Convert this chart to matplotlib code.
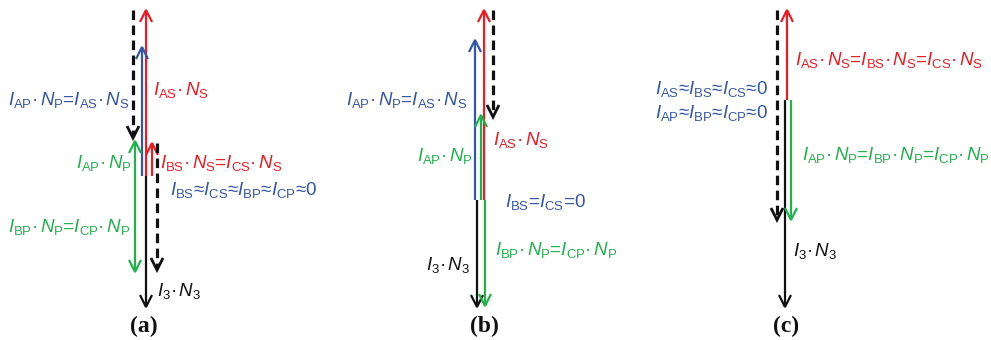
import matplotlib
matplotlib.use("Agg")
import matplotlib.pyplot as plt

plt.rcParams['font.family'] = ['Liberation Sans', 'DejaVu Sans']
plt.rcParams['mathtext.fontset'] = 'custom'
plt.rcParams['mathtext.rm'] = 'Liberation Sans'
plt.rcParams['mathtext.it'] = 'Liberation Sans:italic'
plt.rcParams['mathtext.bf'] = 'Liberation Sans:bold'

RED = '#ec1c24'
BLUE = '#3456a6'
GREEN = '#22b24c'
BLACK = '#111111'

# vectors of each panel: x, tail y, tip y, colour, dashed (picture pixels)
vec_x    = [133, 146, 142, 135, 135, 152, 157, 146,
            484, 493, 475, 481, 477, 485,
            777, 787, 785, 791]
vec_tail = [10, 176, 176, 176, 176, 176, 143, 176,
            200, 10, 200, 200, 200, 200,
            10, 100, 100, 100]
vec_tip  = [138, 10, 47, 141, 272, 143, 270, 307,
            10, 117, 40, 115, 307, 306,
            220, 10, 307, 220]
vec_col  = ['k', 'r', 'b', 'g', 'g', 'r', 'k', 'k',
            'r', 'k', 'b', 'g', 'k', 'g',
            'k', 'r', 'k', 'g']
vec_dash = [1, 0, 0, 0, 0, 0, 1, 0,
            0, 1, 0, 0, 0, 0,
            1, 0, 0, 0]


def mmf(i, n):
    return r"$I_{\rm %s}$·$\,N_{\rm %s}$" % (i, n)


def cur(i):
    return r"$I_{\rm %s}$" % i


# labels: text, x, y, colour, horizontal alignment
lab_text = [
    mmf('AP', 'P') + "=" + mmf('AS', 'S'),
    mmf('AS', 'S'),
    mmf('AP', 'P'),
    mmf('BS', 'S') + "=" + mmf('CS', 'S'),
    cur('BS') + "≈" + cur('CS') + "≈" + cur('BP') + "≈" + cur('CP') + "≈0",
    mmf('BP', 'P') + "=" + mmf('CP', 'P'),
    mmf('3', '3'),
    mmf('AP', 'P') + "=" + mmf('AS', 'S'),
    mmf('AS', 'S'),
    mmf('AP', 'P'),
    cur('BS') + "=" + cur('CS') + "=0",
    mmf('BP', 'P') + "=" + mmf('CP', 'P'),
    mmf('3', '3'),
    mmf('AS', 'S') + "=" + mmf('BS', 'S') + "=" + mmf('CS', 'S'),
    cur('AS') + "≈" + cur('BS') + "≈" + cur('CS') + "≈0",
    cur('AP') + "≈" + cur('BP') + "≈" + cur('CP') + "≈0",
    mmf('AP', 'P') + "=" + mmf('BP', 'P') + "=" + mmf('CP', 'P'),
    mmf('3', '3'),
]
lab_x = [130, 153, 132, 160, 170, 130, 157,
         468, 493, 473, 505, 495, 470,
         795, 768, 768, 802, 793]
lab_y = [100, 90, 163, 163, 190, 227, 291,
         100, 140, 156, 202, 250, 265,
         60, 89, 113, 155, 251]
lab_col = ['b', 'r', 'g', 'r', 'b', 'g', 'k',
           'b', 'r', 'g', 'b', 'g', 'k',
           'r', 'b', 'b', 'g', 'k']
lab_ha = ['right', 'left', 'right', 'left', 'left', 'right', 'left',
          'right', 'left', 'right', 'left', 'left', 'right',
          'left', 'right', 'right', 'left', 'left']

panel_names = ['(a)', '(b)', '(c)']
panel_x = [144, 484, 786]

colours = {'r': RED, 'b': BLUE, 'g': GREEN, 'k': BLACK}

fig = plt.figure(figsize=(9.91, 3.40), dpi=100)
ax = fig.add_axes([0, 0, 1, 1])
ax.set_xlim(0, 991)
ax.set_ylim(340, 0)
ax.axis('off')


def draw_vector(x, y0, y1, c, dashed):
    d = 1 if y1 > y0 else -1
    hl, hw = 12, 6
    if dashed:
        ax.plot([x, x], [y0, y1 - d * 2], color=c, lw=2.3,
                linestyle=(0, (3.0, 1.7)), solid_capstyle='butt')
        lw = 2.0
    else:
        ax.plot([x, x], [y0, y1 - d * 1], color=c, lw=1.6,
                solid_capstyle='butt')
        lw = 1.6
    ax.plot([x - hw, x, x + hw], [y1 - d * hl, y1, y1 - d * hl],
            color=c, lw=lw, solid_joinstyle='miter', solid_capstyle='butt')


for i in range(len(vec_x)):
    draw_vector(vec_x[i], vec_tail[i], vec_tip[i], colours[vec_col[i]], vec_dash[i])

for i in range(len(lab_text)):
    ax.text(lab_x[i], lab_y[i], lab_text[i], color=colours[lab_col[i]],
            fontsize=13.5, ha=lab_ha[i], va='center')

for i in range(len(panel_names)):
    ax.text(panel_x[i], 326, panel_names[i], fontsize=17, fontweight='bold',
            family='Liberation Serif', ha='center', va='center', color=BLACK)

fig.savefig('out.png', dpi=100)
